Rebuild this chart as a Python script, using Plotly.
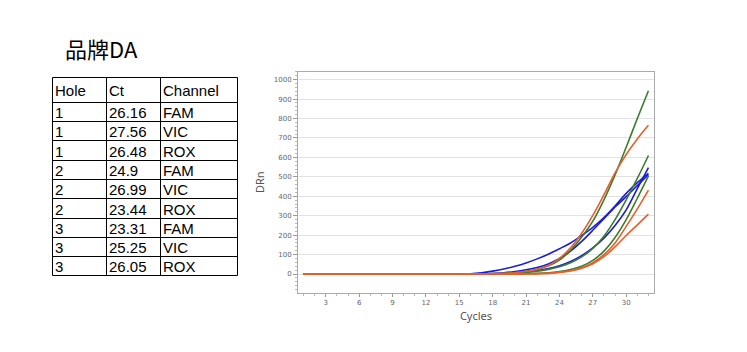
import plotly.graph_objects as go

# ---- data ----
title_text = "品牌DA"
table_header = ["Hole", "Ct", "Channel"]
holes = ["1", "1", "1", "2", "2", "2", "3", "3", "3"]
cts = ["26.16", "27.56", "26.48", "24.9", "26.99", "23.44", "23.31", "25.25", "26.05"]
channels = ["FAM", "VIC", "ROX", "FAM", "VIC", "ROX", "FAM", "VIC", "ROX"]

cycles = list(range(1, 33))
x_ticks = [3, 6, 9, 12, 15, 18, 21, 24, 27, 30]
y_ticks = [0, 100, 200, 300, 400, 500, 600, 700, 800, 900, 1000]

blue_1 = [0]*15 + [1, 6, 15, 26, 40, 57, 78, 102, 130, 160, 198, 240, 290, 350, 415, 470, 518]
blue_2 = [0]*17 + [3, 7, 13, 22, 34, 52, 80, 118, 168, 225, 285, 345, 398, 455, 512]
blue_3 = [0]*18 + [3, 6, 11, 18, 28, 43, 65, 95, 135, 185, 250, 330, 440, 548]
green_1 = [0]*17 + [2, 4, 8, 14, 24, 42, 72, 122, 190, 272, 382, 510, 652, 800, 943]
green_2 = [0]*18 + [2, 4, 8, 14, 24, 38, 58, 88, 132, 195, 280, 382, 492, 610]
green_3 = [0]*20 + [2, 4, 7, 13, 23, 40, 70, 118, 188, 280, 390, 505]
orange_1 = [0]*17 + [2, 4, 7, 13, 24, 44, 80, 135, 210, 302, 408, 520, 615, 695, 765]
orange_2 = [0]*20 + [1, 2, 5, 10, 18, 32, 58, 100, 160, 245, 335, 432]
orange_3 = [0]*21 + [1, 3, 8, 16, 30, 53, 90, 140, 198, 253, 308]

series = [
    (blue_1, "#1c1cd8"), (blue_2, "#1c1cd8"), (blue_3, "#1c1cd8"),
    (green_1, "#3b7d2b"), (green_2, "#3b7d2b"), (green_3, "#3b7d2b"),
    (orange_1, "#e2602e"), (orange_2, "#e2602e"), (orange_3, "#e2602e"),
]

W, H = 747, 352
fig = go.Figure()

for vals, col in series:
    fig.add_trace(go.Scatter(x=cycles, y=vals, mode="lines",
                             line=dict(color=col, width=1.6, shape="spline"),
                             showlegend=False, hoverinfo="skip"))

# ---- table (lines as shapes, text as annotations) ----
tbl_left, tbl_top = 52.5, 77.5
col_w = [54, 54, 77]
header_h, row_h = 25, 19.25
n_rows = len(holes)
col_x = [tbl_left]
for w in col_w:
    col_x.append(col_x[-1] + w)
row_y = [tbl_top, tbl_top + header_h]
for i in range(n_rows):
    row_y.append(row_y[1] + (i + 1) * row_h)
row_y = [round(v - 0.5) + 0.5 for v in row_y]

def px(xp):
    return xp / W

def py(yp):
    return 1 - yp / H

shapes = []
for yv in row_y:
    shapes.append(dict(type="line", xref="paper", yref="paper",
                       x0=px(col_x[0]), x1=px(col_x[-1]), y0=py(yv), y1=py(yv),
                       line=dict(color="black", width=1)))
for xv in col_x:
    shapes.append(dict(type="line", xref="paper", yref="paper",
                       x0=px(xv), x1=px(xv), y0=py(row_y[0]), y1=py(row_y[-1]),
                       line=dict(color="black", width=1)))

annotations = [dict(text=title_text, x=63/W, y=py(48), xref="paper", yref="paper",
                    xanchor="left", yanchor="middle", showarrow=False,
                    font=dict(family="Noto Sans CJK SC", size=22, color="black"))]

tfont = dict(family="Liberation Sans", size=15, color="black")
columns = [holes, cts, channels]
for c, head in enumerate(table_header):
    annotations.append(dict(text=head, x=px(col_x[c] + 0.5), y=py((row_y[0] + row_y[1]) / 2 + 0.5),
                            xref="paper", yref="paper", xanchor="left", yanchor="middle",
                            showarrow=False, font=tfont))
    for r, val in enumerate(columns[c]):
        annotations.append(dict(text=val, x=px(col_x[c] + 0.5),
                                y=py((row_y[r + 1] + row_y[r + 2]) / 2 + 0.5),
                                xref="paper", yref="paper", xanchor="left", yanchor="middle",
                                showarrow=False, font=tfont))

fig.update_layout(
    width=W, height=H,
    margin=dict(l=0, r=0, t=0, b=0),
    paper_bgcolor="white", plot_bgcolor="white",
    showlegend=False,
    shapes=shapes,
    annotations=annotations,
    xaxis=dict(domain=[298/W, 654/W], range=[0.5, 32.5],
               tickvals=x_ticks, ticks="outside", ticklen=3, tickcolor="#999",
               showline=True, linecolor="#aaa", linewidth=1, mirror=True,
               showgrid=False, zeroline=False,
               minor=dict(dtick=1, ticks="outside", ticklen=2, tickcolor="#bbb"),
               tickfont=dict(family="DejaVu Sans", size=7, color="#666"),
               title=dict(text="Cycles", font=dict(family="Noto Sans", size=11, color="#555"), standoff=6)),
    yaxis=dict(domain=[1 - 292.7/H, 1 - 71.7/H], range=[-96, 1041],
               tickvals=y_ticks, ticks="outside", ticklen=4, tickcolor="#999",
               showline=True, linecolor="#aaa", linewidth=1, mirror=True,
               showgrid=True, gridcolor="#e2e2e2", gridwidth=1, zeroline=False,
               minor=dict(dtick=20, ticks="outside", ticklen=2, tickcolor="#bbb", showgrid=False),
               tickfont=dict(family="DejaVu Sans", size=7, color="#666"),
               title=dict(text="DRn", font=dict(family="Noto Sans", size=11, color="#555"), standoff=6)),
)

fig.write_html("out.html")
